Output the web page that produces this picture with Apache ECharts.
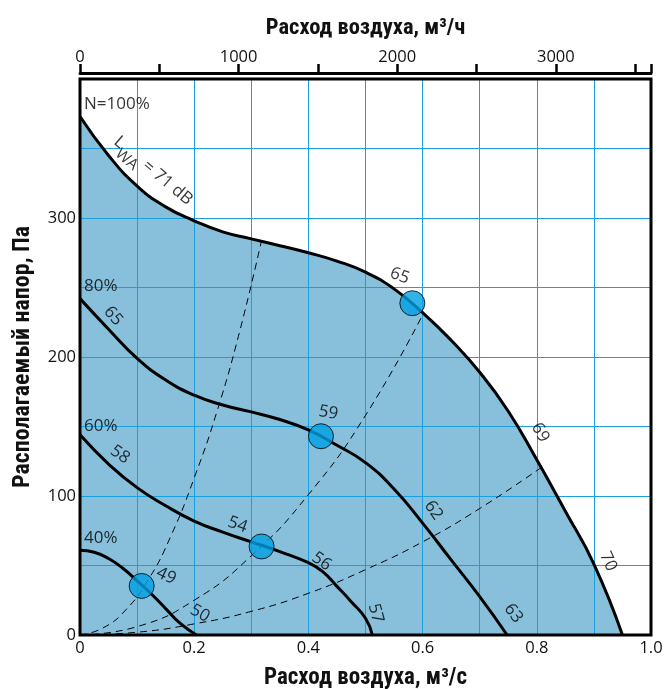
<!DOCTYPE html>
<html><head><meta charset="utf-8">
<script src="https://cdn.jsdelivr.net/npm/echarts@6/dist/echarts.min.js"></script>
<style>html,body{margin:0;padding:0;background:#fff}#c{width:665px;height:689px}</style>
</head><body><div id="c"></div>
<script>
// ---- data ----
const curve100 = [[0,373],[0.05,345],[0.1,323],[0.15,308],[0.2,298],[0.25,290],[0.3,285],[0.35,280],[0.4,275],[0.45,269],[0.5,261],[0.55,249],[0.6,232],[0.65,212],[0.7,189],[0.75,161],[0.8,126],[0.85,89],[0.9,51],[0.95,0]];
const curve80 = [[0,242],[0.05,220],[0.1,199],[0.15,183.5],[0.2,172.5],[0.25,165.5],[0.3,160.5],[0.35,155],[0.4,147.5],[0.45,136.5],[0.5,124],[0.55,105],[0.6,80.5],[0.65,54],[0.7,27.6],[0.748,0]];
const curve60 = [[0,144],[0.05,123],[0.1,106],[0.15,93],[0.2,82],[0.25,74],[0.3,67],[0.35,60],[0.4,52],[0.425,45.6],[0.45,35],[0.475,24],[0.5,12],[0.512,0]];
const curve40 = [[0,61],[0.025,59.5],[0.05,55],[0.075,48],[0.1,39],[0.125,29.5],[0.15,19],[0.175,8.5],[0.204,0]];
const system1 = [[0,0],[0.04,5],[0.08,18],[0.12,40],[0.16,72],[0.2,113],[0.24,161],[0.28,219],[0.318,284]];
const system2 = [[0,0],[0.1,6],[0.2,25],[0.3,57],[0.4,101],[0.5,158],[0.601,231]];
const system3 = [[0,0],[0.1,2],[0.2,8],[0.3,17],[0.4,30],[0.5,47],[0.6,67],[0.7,91],[0.806,120]];
const workPoints = [[0.108,35.3],[0.318,63.7],[0.422,143],[0.582,238.7]];
const xTicksM3s = [0, 0.2, 0.4, 0.6, 0.8, 1.0];
const yTickLabels = [0, 100, 200, 300];
const topTickLabels = [0, 1000, 2000, 3000];
// annotations: [x, y, text]
const annotations = [
  [0.007, 382, 'N=100%'],
  [0.007, 251, '80%'],
  [0.007, 150, '60%'],
  [0.007, 70, '40%'],
  [0.128, 334, 'lwa'],
  [0.058, 229.5, '65'],
  [0.07, 129.8, '58'],
  [0.276, 79.3, '54'],
  [0.151, 42.5, '49'],
  [0.21, 15.6, '50'],
  [0.56, 258.4, '65'],
  [0.435, 159.9, '59'],
  [0.619, 89.7, '62'],
  [0.423, 52.9, '56'],
  [0.518, 15.6, '57'],
  [0.759, 15.6, '63'],
  [0.806, 145.7, '69'],
  [0.925, 52.9, '70']
];
const annRot = [0,0,0,0,-40,-50,-35,-20,-25,-30,-20,-10,-55,-35,-75,-55,-60,-65];

const FONT = "'Open Sans', 'Noto Sans', sans-serif";
const TFONT = "'Liberation Sans Narrow', 'Roboto Condensed', 'Liberation Sans', sans-serif";

const chart = echarts.init(document.getElementById('c'), null, {renderer:'canvas'});
const lineCommon = {type:'line', smooth:0.5, symbol:'none', silent:true, z:3, xAxisIndex:0, yAxisIndex:0};
const annData = annotations.map((a,i)=>{
  const left = i < 4;
  return {value:[a[0],a[1]], label:{
    rotate: annRot[i],
    align: left ? 'left' : 'center',
    formatter: a[2]==='lwa' ? '{a|L}{b|WA}{a| = 71 dB}' : a[2]
  }};
});

chart.setOption({
  animation:false,
  backgroundColor:'#fff',
  grid:{left:80, right:14, top:79, bottom:54, outerBoundsMode:'none', containLabel:false,
    show:true, borderColor:'#000', borderWidth:3, backgroundColor:'transparent', z:10},
  xAxis:[{
    type:'value', min:0, max:1, interval:0.1, position:'bottom', z:2,
    axisLine:{show:false}, axisTick:{show:false},
    splitLine:{show:true, lineStyle:{color:'#1aa0e0', width:1}},
    axisLabel:{margin:5, color:'#111', fontFamily:FONT, fontSize:16.5,
      formatter:v=>{const r=Math.round(v*10)/10; if(!xTicksM3s.some(t=>Math.abs(t-r)<1e-6)) return ''; return r===0?'0':r.toFixed(1);}},
    name:'Расход воздуха, м³/с', nameLocation:'middle', nameGap:32,
    nameTextStyle:{fontFamily:TFONT, fontWeight:'bold', fontSize:23, color:'#111'}
  },{
    type:'value', min:0, max:3600, interval:500, position:'top', offset:6, z:2,
    axisLine:{show:true, lineStyle:{color:'#000', width:3}},
    axisTick:{show:true, inside:false, length:9, lineStyle:{color:'#000', width:2.5}},
    splitLine:{show:false},
    axisLabel:{margin:7, color:'#111', fontFamily:FONT, fontSize:16.5,
      formatter:v=>topTickLabels.includes(v)?String(v):''},
    name:'Расход воздуха, м³/ч', nameLocation:'middle', nameGap:33,
    nameTextStyle:{fontFamily:TFONT, fontWeight:'bold', fontSize:22.5, color:'#111'}
  }],
  yAxis:[{
    type:'value', min:0, max:400, interval:50, z:2,
    axisLine:{show:false}, axisTick:{show:false},
    splitLine:{show:true, lineStyle:{color:'#1aa0e0', width:1}},
    axisLabel:{margin:4, color:'#111', fontFamily:FONT, fontSize:16.5,
      formatter:v=>yTickLabels.includes(v)?String(v):''},
    name:'Располагаемый напор, Па', nameLocation:'middle', nameGap:45, nameRotate:90,
    nameTextStyle:{fontFamily:TFONT, fontWeight:'bold', fontSize:24, color:'#111'}
  }],
  series:[
    {type:'line', smooth:0.5, symbol:'none', silent:true, z:1, data:curve100,
      lineStyle:{width:0}, areaStyle:{color:'#88c0dc', opacity:1}},
    Object.assign({}, lineCommon, {data:system1, lineStyle:{color:'#000', width:1, type:[7,5]}}),
    Object.assign({}, lineCommon, {data:system2, lineStyle:{color:'#000', width:1, type:[7,5]}}),
    Object.assign({}, lineCommon, {data:system3, lineStyle:{color:'#000', width:1, type:[7,5]}}),
    Object.assign({}, lineCommon, {data:curve100, lineStyle:{color:'#000', width:3}}),
    Object.assign({}, lineCommon, {data:curve80, lineStyle:{color:'#000', width:3}}),
    Object.assign({}, lineCommon, {data:curve60, lineStyle:{color:'#000', width:3}}),
    Object.assign({}, lineCommon, {data:curve40, lineStyle:{color:'#000', width:3}}),
    {type:'scatter', data:workPoints, symbolSize:25, z:5, silent:true,
      itemStyle:{color:'#009fe3', borderColor:'#000', borderWidth:1}},
    {type:'scatter', data:annData, symbolSize:1, z:6, silent:true,
      itemStyle:{color:'rgba(0,0,0,0)'},
      label:{show:true, position:'inside', color:'#000', fontFamily:FONT, fontSize:17,
        rich:{a:{fontFamily:FONT, fontSize:17, color:'#000'}, b:{fontFamily:FONT, fontSize:15.5, color:'#000', padding:[17,0,0,0]}}}}
  ]
});
</script></body></html>
